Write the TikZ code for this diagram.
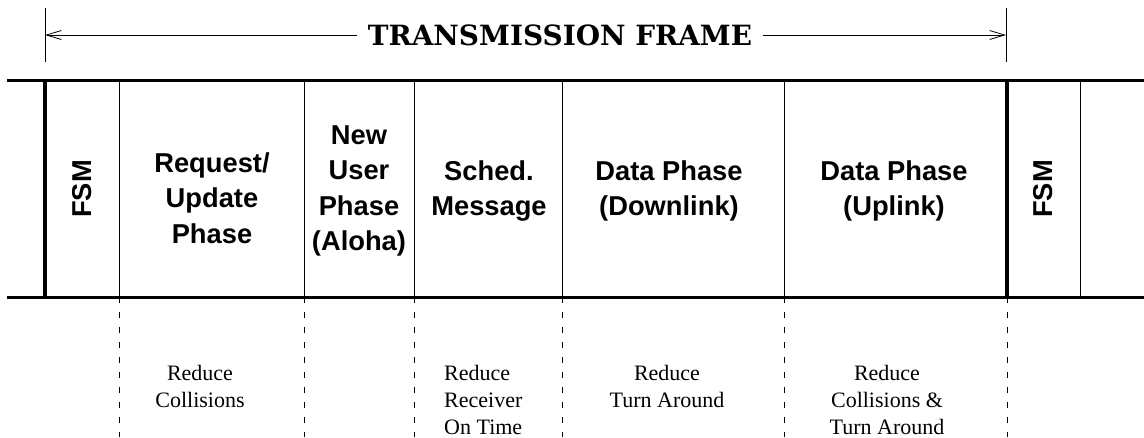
\documentclass[tikz,border=0pt]{standalone}
\usepackage{fontspec}
\newfontfamily\cellfont{Liberation Sans}
\newfontfamily\notefont{Liberation Serif}
\newfontfamily\titlefont{DejaVu Serif}
\usetikzlibrary{arrows.meta}

\begin{document}
\begin{tikzpicture}[x=1pt, y=-1pt,
  frameline/.style={line width=3pt},
  edgeline/.style={line width=3.5pt},
  slotline/.style={line width=1pt},
  guideline/.style={line width=0.8pt, dash pattern=on 6pt off 9pt},
  measure/.style={line width=0.8pt, -{Straight Barb[length=15pt,width=9pt]}},
  phase/.style={font=\cellfont\bfseries\fontsize{27.3}{35.5}\selectfont, align=center, inner sep=0pt},
  note/.style={font=\notefont\fontsize{22}{27}\selectfont, align=center, inner sep=0pt}]
\useasboundingbox (0,0) rectangle (1144,437);

% frame border
\coordinate (tl) at (7,80);
\coordinate (tr) at (1144,80);
\coordinate (bl) at (7,297);
\coordinate (br) at (1144,297);
% slot boundaries
\coordinate (t0) at (45,80);    \coordinate (b0) at (45,297);
\coordinate (t1) at (119,80);   \coordinate (b1) at (119,297);
\coordinate (t2) at (304,80);   \coordinate (b2) at (304,297);
\coordinate (t3) at (414,80);   \coordinate (b3) at (414,297);
\coordinate (t4) at (562,80);   \coordinate (b4) at (562,297);
\coordinate (t5) at (784,80);   \coordinate (b5) at (784,297);
\coordinate (t6) at (1007,80);  \coordinate (b6) at (1007,297);
\coordinate (t7) at (1080,80);  \coordinate (b7) at (1080,297);
% guide ends
\coordinate (g1) at (119,437);
\coordinate (g2) at (304,437);
\coordinate (g3) at (414,437);
\coordinate (g4) at (562,437);
\coordinate (g5) at (784,437);
\coordinate (g6) at (1007,437);
% frame markers
\coordinate (lup) at (45,8);    \coordinate (ldn) at (45,62);
\coordinate (rup) at (1006,8);  \coordinate (rdn) at (1006,62);
\coordinate (lend) at (45,35);
\coordinate (rend) at (1006,35);

\draw [frameline] (tl) -- (tr);
\draw [frameline] (bl) -- (br);
\draw [edgeline] (t0) -- (b0);
\draw [edgeline] (t6) -- (b6);
\draw [slotline] (t1) -- (b1);
\draw [slotline] (t2) -- (b2);
\draw [slotline] (t3) -- (b3);
\draw [slotline] (t4) -- (b4);
\draw [slotline] (t5) -- (b5);
\draw [slotline] (t7) -- (b7);

\draw [guideline] (b1) -- (g1);
\draw [guideline] (b2) -- (g2);
\draw [guideline] (b3) -- (g3);
\draw [guideline] (b4) -- (g4);
\draw [guideline] (b5) -- (g5);
\draw [guideline] (b6) -- (g6);

\draw [slotline, line width=0.8pt] (lup) -- (ldn);
\draw [slotline, line width=0.8pt] (rup) -- (rdn);
\draw (560,35) node (title) [inner xsep=11pt, inner ysep=0pt, font=\titlefont\bfseries\fontsize{27.9}{30}\selectfont] {TRANSMISSION FRAME};
\draw [measure] (title.west) -- (lend);
\draw [measure] (title.east) -- (rend);

  \draw (82,189) node (fsmA) [phase, rotate=90] {FSM};
  \draw (212,198) node (request) [phase] {Request/\\Update\\Phase};
  \draw (359,191) node (newuser) [phase] {New\\User\\Phase\\(Aloha)};
  \draw (489,191) node (sched) [phase] {Sched.\\Message};
  \draw (669,191) node (down) [phase] {Data Phase\\(Downlink)};
  \draw (894,191) node (up) [phase] {Data Phase\\(Uplink)};
  \draw (1043,189) node (fsmB) [phase, rotate=90] {FSM};

 \draw (200,386.5) node (collide) [note] {Reduce\\Collisions};
 \draw (444,400) node (receiver) [note, anchor=west, align=left] {Reduce\\Receiver\\On Time};
 \draw (667,386.5) node (turn) [note] {Reduce\\Turn Around};
 \draw (887,400) node (both) [note] {Reduce\\Collisions \&\\Turn Around};
\end{tikzpicture}
\end{document}
